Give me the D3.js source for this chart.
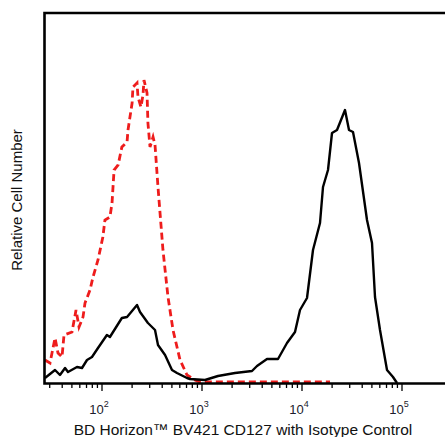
<!DOCTYPE html>
<html><head><meta charset="utf-8">
<script src="https://cdn.jsdelivr.net/npm/d3@7"></script>
<style>html,body{margin:0;padding:0;background:#fff;}svg{display:block;}</style>
</head><body><svg id="c" width="445" height="437"></svg>
<script>
// Isotype control (red dashed)
const isoX = [26.9,30.2,33.9,36.3,39.8,41.7,50.1,55.0,58.9,64.6,67.6,75.9,81.3,91.2,102,107,120,126,132,145,158,178,182,200,204,224,229,245,257,263,282,288,302,324,339,363,407,457,513,603,708,851,955,1202,2000,3020,6000,10000,19055];
const isoY = [23,20,45,30,26,48,51,73,56,66,80,93,106,123,146,163,166,180,213,218,236,241,253,280,296,300,286,276,288,303,290,260,236,246,238,196,133,86,53,23,8,3,1,1,1,1,1,1,1];
// CD127 stained (black solid)
const cdX = [26.9,33.9,38,42.7,45.7,56.2,63.1,70.8,79.4,91.2,112,120,158,178,224,240,288,339,363,427,501,562,708,759,1072,1445,2138,3162,3548,4467,5754,7079,8511,9550,11220,12882,15136,16218,18197,19953,22387,26915,29512,32359,37154,44668,50119,53703,60256,70795,81283,89125];
const cdY = [5,13,8,15,11,16,15,23,26,35,48,46,65,66,78,71,60,53,38,28,13,10,5,4,3,7,10,12,17,24,24,40,51,73,85,133,160,196,213,250,253,273,253,251,220,163,140,86,53,13,6,0];
const decades = [2,3,4,5];
const xTitle = "BD Horizon\u2122 BV421 CD127 with Isotype Control";
const yTitle = "Relative Cell Number";

const svg = d3.select("#c");
const x = d3.scaleLog().domain([100,100000]).range([102,402]);
const y = d3.scaleLinear().domain([0,371]).range([383,12]);

// ticks
const tickVals = [];
for (let e=1;e<=4;e++) for (let m=1;m<=9;m++) tickVals.push(m*Math.pow(10,e));
tickVals.push(100000);
const tv = tickVals.filter(v => x(v) >= 47 && x(v) <= 403);
svg.selectAll("line.tk").data(tv).enter().append("line")
  .attr("x1", d=>x(d)).attr("x2", d=>x(d))
  .attr("y1", 383)
  .attr("y2", d => Math.abs(Math.log10(d)-Math.round(Math.log10(d)))<1e-9 ? 391 : 388)
  .attr("stroke","#000").attr("stroke-width",1.3);

// tick labels
const lab = svg.selectAll("text.tl").data(decades).enter().append("text")
  .attr("x", d=>x(Math.pow(10,d))-3).attr("y", 414)
  .attr("text-anchor","middle")
  .attr("font-family","Liberation Sans, Arial, sans-serif")
  .attr("font-size",13).attr("fill","#1c1c2c");
lab.append("tspan").text("10");
lab.append("tspan").attr("dy",-7).attr("font-size",9).text(d=>d);

// curves
const line = d3.line().x(d=>x(d[0])).y(d=>y(d[1]));
svg.append("path").datum(isoX.map((v,i)=>[v,isoY[i]]))
  .attr("d",line).attr("fill","none").attr("stroke","#ee1c1c")
  .attr("stroke-width",2.8).attr("stroke-dasharray","7,4");
svg.append("path").datum(cdX.map((v,i)=>[v,cdY[i]]))
  .attr("d",line).attr("fill","none").attr("stroke","#000")
  .attr("stroke-width",2.4).attr("stroke-linejoin","round");

// frame
svg.append("path").attr("d","M445,13H44.5V383.5H445")
  .attr("fill","none").attr("stroke","#000").attr("stroke-width",2.6);

// titles
svg.append("text").attr("x",243).attr("y",435).attr("text-anchor","middle")
  .attr("font-family","Liberation Sans, Arial, sans-serif").attr("font-size",15.5)
  .attr("fill","#111").text(xTitle);
svg.append("text").attr("transform","translate(22,200) rotate(-90)")
  .attr("text-anchor","middle")
  .attr("font-family","Liberation Sans, Arial, sans-serif").attr("font-size",15)
  .attr("fill","#111").text(yTitle);
</script></body></html>
